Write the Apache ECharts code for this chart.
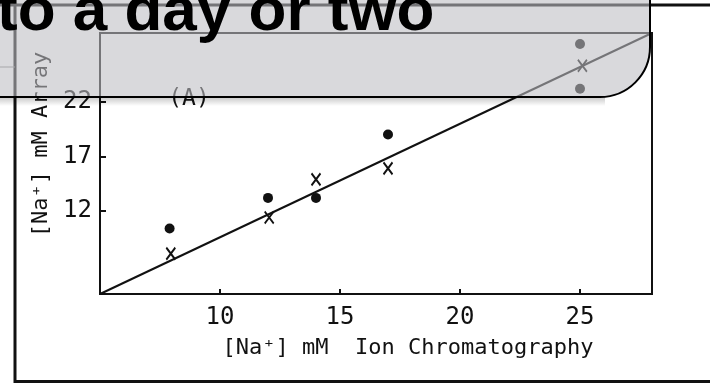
<!DOCTYPE html>
<html>
<head>
<meta charset="utf-8">
<script src="https://cdn.jsdelivr.net/npm/echarts@6/dist/echarts.min.js"></script>
<style>
  html, body { margin: 0; padding: 0; background: #fff; }
  #chart { width: 710px; height: 383px; }
</style>
</head>
<body>
<div id="chart"></div>
<script>
// values
const xTicks = [10, 15, 20, 25];
const yTicks = [12, 17, 22];
const xRange = [5, 28];
const yRange = [4.4, 28.3];
const dotPoints = [[7.9, 10.4], [12, 13.2], [14, 13.2], [17, 19.0], [25, 27.3], [25, 23.2]];
const crossPoints = [[7.95, 8.1], [12.05, 11.4], [14, 14.9], [17, 15.9], [25.1, 25.3]];
const fitLine = [[5, 4.4], [28, 28.3]];

const ink = '#111';
const figFont = '"DejaVu Sans Mono", monospace';
const axisLineStyle = { color: ink, width: 2 };

const chart = echarts.init(document.getElementById('chart'));

chart.setOption({
  animation: false,
  backgroundColor: '#fff',
  grid: {
    left: 100, right: 58, top: 33, bottom: 89,
    outerBoundsMode: 'none',
    show: true, borderColor: ink, borderWidth: 2
  },
  xAxis: {
    type: 'value',
    min: xRange[0], max: xRange[1],
    splitLine: { show: false },
    axisLine: { show: true, onZero: false, lineStyle: axisLineStyle },
    axisTick: { show: true, inside: true, length: 5, customValues: xTicks, lineStyle: axisLineStyle },
    axisLabel: { customValues: xTicks, margin: 12, fontSize: 24, color: ink, fontFamily: figFont },
    name: '[Na\u207A] mM  Ion Chromatography',
    nameLocation: 'middle',
    nameGap: 43,
    nameTextStyle: { fontSize: 22, color: ink, fontFamily: figFont, padding: [0, 0, 0, 64] }
  },
  yAxis: {
    type: 'value',
    min: yRange[0], max: yRange[1],
    splitLine: { show: false },
    axisLine: { show: true, onZero: false, lineStyle: axisLineStyle },
    axisTick: { show: true, inside: true, length: 6, customValues: yTicks, lineStyle: axisLineStyle },
    axisLabel: { customValues: yTicks, margin: 8, fontSize: 24, color: ink, fontFamily: figFont },
    name: '[Na\u207A] mM Array',
    nameLocation: 'middle',
    nameRotate: 90,
    nameGap: 31,
    nameTextStyle: { fontSize: 22, color: ink, fontFamily: figFont, padding: [10, 0, 0, 38] }
  },
  series: [
    {
      type: 'line',
      data: fitLine,
      symbol: 'none',
      lineStyle: { color: ink, width: 2 },
      z: 2
    },
    {
      type: 'scatter',
      data: dotPoints,
      symbol: 'circle',
      symbolSize: 10,
      itemStyle: { color: ink, opacity: 1 },
      z: 3
    },
    {
      type: 'scatter',
      data: crossPoints,
      symbol: 'path://M0,0L9,12M9,0L0,12',
      symbolSize: [9, 12],
      itemStyle: { color: 'none', borderColor: ink, borderWidth: 2, opacity: 1 },
      z: 3
    }
  ],
  graphic: [
    // slide frame
    { type: 'rect', silent: true, z: 0,
      shape: { x: 15, y: 5, width: 720, height: 376.5 },
      style: { fill: 'none', stroke: '#111', lineWidth: 3 } },
    { type: 'line', silent: true, z: 0,
      shape: { x1: 0, y1: 5, x2: 15, y2: 5 },
      style: { stroke: '#111', lineWidth: 3 } },
    { type: 'line', silent: true, z: 0,
      shape: { x1: 0, y1: 67, x2: 15, y2: 67 },
      style: { stroke: '#888', lineWidth: 1 } },
    // panel letter
    { type: 'text', silent: true, z: 10,
      style: { text: '(A)', x: 189, y: 99, align: 'center', verticalAlign: 'middle',
               font: '23px ' + figFont, fill: ink } },
    // banner shadow
    { type: 'rect', silent: true, z: 90,
      shape: { x: 0, y: 97, width: 605, height: 9 },
      style: { fill: new echarts.graphic.LinearGradient(0, 0, 0, 1, [
        { offset: 0, color: 'rgba(0,0,0,0.22)' }, { offset: 1, color: 'rgba(0,0,0,0)' }]) } },
    // translucent banner over the figure
    { type: 'rect', silent: true, z: 100,
      shape: { x: -10, y: -10, width: 660, height: 107, r: [0, 0, 50, 0] },
      style: { fill: 'rgba(190,190,195,0.58)', stroke: '#000', lineWidth: 2 } },
    { type: 'text', silent: true, z: 101,
      style: { text: 'to a day or two', x: -3, y: 13, verticalAlign: 'middle',
               font: 'bold 62px "Liberation Sans", Arial, sans-serif', fill: '#000',
               shadowBlur: 3, shadowColor: 'rgba(0,0,0,0.35)', shadowOffsetX: 2, shadowOffsetY: 2 } }
  ]
});
</script>
</body>
</html>
